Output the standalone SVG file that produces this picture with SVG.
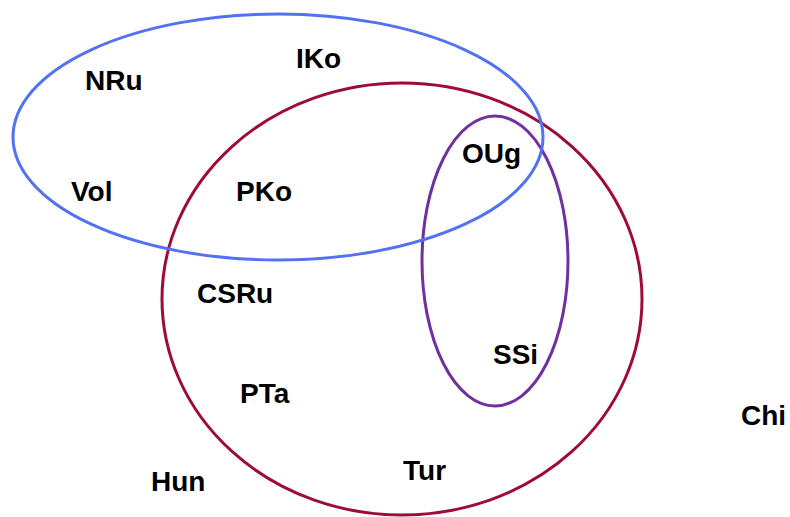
<svg xmlns="http://www.w3.org/2000/svg" width="790" height="517" viewBox="0 0 790 517">
  <style>
    .set { fill: none; stroke-width: 3; }
    .lbl { font-family: "Liberation Sans", Arial, sans-serif; font-weight: bold; font-size: 28px; fill: #000; }
  </style>
  <rect width="790" height="517" fill="#fff"/>
  <g id="sets">
    <ellipse id="set-red" class="set" cx="402" cy="299" rx="240" ry="216" stroke="#9e0b3b"/>
    <ellipse id="set-purple" class="set" cx="495" cy="261" rx="73" ry="145" stroke="#7030a0"/>
    <ellipse id="set-blue" class="set" cx="278" cy="137" rx="265" ry="123" stroke="#5272f2"/>
  </g>
  <g id="labels">
    <g id="NRu"><text class="lbl" x="85" y="90">NRu</text></g>
    <g id="IKo"><text class="lbl" x="296" y="68">IKo</text></g>
    <g id="Vol"><text class="lbl" x="71" y="201">Vol</text></g>
    <g id="PKo"><text class="lbl" x="236" y="201">PKo</text></g>
    <g id="OUg"><text class="lbl" x="462" y="163">OUg</text></g>
    <g id="CSRu"><text class="lbl" x="197" y="303">CSRu</text></g>
    <g id="SSi"><text class="lbl" x="493" y="364">SSi</text></g>
    <g id="PTa"><text class="lbl" x="240" y="403">PTa</text></g>
    <g id="Tur"><text class="lbl" x="403" y="480">Tur</text></g>
    <g id="Hun"><text class="lbl" x="151" y="491">Hun</text></g>
    <g id="Chi"><text class="lbl" x="741" y="425">Chi</text></g>
  </g>
</svg>
